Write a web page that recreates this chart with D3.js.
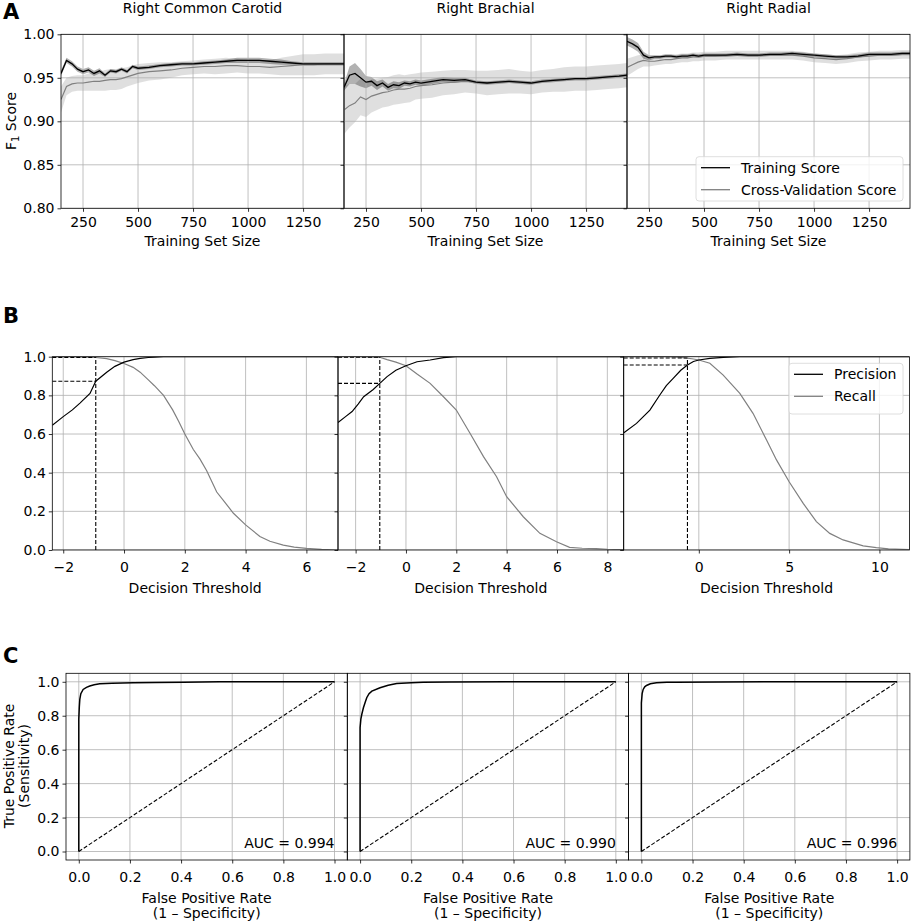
<!DOCTYPE html>
<html lang="en">
<head>
<meta charset="utf-8">
<title>Learning curves, precision-recall and ROC</title>
<script src="https://d3js.org/d3.v7.min.js"></script>
<style>
  body { margin: 0; background: #fff; }
  svg { font-family: "DejaVu Sans", sans-serif; }
  .tick line { stroke: #000; stroke-width: 0.8; }
  .grid line { stroke: #b0b0b0; stroke-width: 0.8; }
  .lbl { font-size: 14px; fill: #000; }
  .letter { font-size: 21px; font-weight: bold; }
</style>
</head>
<body>
<script>
// ---- A: learning curves ----
var arteries = ["Right Common Carotid", "Right Brachial", "Right Radial"];
var sizes = [150,175,200,225,250,275,300,325,350,375,400,425,450,475,500,550,600,650,700,750,800,850,900,950,1000,1050,1100,1150,1200,1250,1300,1350,1400,1436];
var sizeTicks = [250, 500, 750, 1000, 1250];
var f1Ticks = [0.80, 0.85, 0.90, 0.95, 1.00];

var carotidTrain    = [0.955,0.970,0.966,0.960,0.957,0.959,0.955,0.958,0.953,0.958,0.957,0.960,0.957,0.963,0.961,0.962,0.964,0.965,0.966,0.966,0.967,0.968,0.969,0.970,0.970,0.970,0.969,0.968,0.967,0.966,0.966,0.966,0.966,0.966];
var carotidTrainStd = [0.003,0.003,0.003,0.003,0.003,0.003,0.003,0.003,0.002,0.002,0.002,0.002,0.002,0.002,0.002,0.002,0.002,0.002,0.002,0.002,0.002,0.002,0.002,0.003,0.003,0.003,0.003,0.003,0.002,0.002,0.002,0.002,0.002,0.002];
var carotidCv       = [0.925,0.940,0.943,0.944,0.944,0.945,0.946,0.946,0.947,0.948,0.948,0.949,0.951,0.953,0.955,0.957,0.958,0.959,0.961,0.962,0.963,0.963,0.964,0.964,0.963,0.963,0.962,0.963,0.964,0.965,0.965,0.966,0.966,0.966];
var carotidCvStd    = [0.015,0.010,0.009,0.009,0.009,0.010,0.011,0.011,0.012,0.012,0.012,0.012,0.011,0.011,0.011,0.010,0.010,0.009,0.008,0.008,0.008,0.009,0.009,0.008,0.008,0.008,0.008,0.010,0.011,0.012,0.012,0.012,0.012,0.012];

var brachialTrain    = [0.939,0.953,0.955,0.950,0.945,0.946,0.941,0.944,0.939,0.942,0.941,0.944,0.943,0.945,0.944,0.946,0.948,0.947,0.948,0.945,0.944,0.945,0.946,0.945,0.944,0.946,0.947,0.948,0.949,0.949,0.950,0.951,0.952,0.953];
var brachialTrainStd = [0.004,0.010,0.012,0.010,0.007,0.005,0.005,0.004,0.004,0.004,0.004,0.003,0.003,0.003,0.003,0.003,0.003,0.003,0.002,0.002,0.002,0.002,0.002,0.002,0.002,0.002,0.002,0.002,0.002,0.002,0.002,0.002,0.002,0.002];
var brachialCv       = [0.913,0.918,0.921,0.928,0.925,0.929,0.931,0.933,0.934,0.936,0.937,0.937,0.938,0.940,0.941,0.942,0.944,0.945,0.946,0.945,0.944,0.945,0.946,0.945,0.944,0.946,0.947,0.948,0.949,0.949,0.950,0.951,0.952,0.953];
var brachialCvStd    = [0.028,0.025,0.022,0.021,0.020,0.019,0.018,0.017,0.017,0.017,0.017,0.016,0.016,0.015,0.015,0.015,0.014,0.014,0.013,0.013,0.014,0.014,0.014,0.013,0.013,0.013,0.013,0.014,0.014,0.014,0.014,0.014,0.014,0.014];

var radialTrain    = [0.992,0.989,0.985,0.976,0.973,0.974,0.974,0.975,0.975,0.974,0.975,0.975,0.976,0.975,0.976,0.976,0.976,0.977,0.976,0.976,0.977,0.977,0.978,0.977,0.976,0.975,0.974,0.974,0.975,0.977,0.977,0.977,0.978,0.978];
var radialTrainStd = [0.005,0.005,0.005,0.004,0.003,0.002,0.002,0.002,0.002,0.002,0.002,0.002,0.002,0.002,0.002,0.002,0.002,0.002,0.002,0.002,0.002,0.002,0.002,0.002,0.002,0.002,0.002,0.002,0.002,0.002,0.002,0.002,0.002,0.002];
var radialCv       = [0.962,0.965,0.968,0.970,0.969,0.969,0.970,0.971,0.971,0.972,0.973,0.973,0.974,0.974,0.975,0.975,0.976,0.976,0.976,0.976,0.976,0.976,0.976,0.975,0.973,0.972,0.971,0.972,0.974,0.975,0.976,0.976,0.977,0.977];
var radialCvStd    = [0.010,0.009,0.008,0.007,0.006,0.005,0.005,0.005,0.005,0.005,0.005,0.005,0.005,0.005,0.005,0.005,0.005,0.005,0.005,0.005,0.005,0.005,0.005,0.005,0.005,0.005,0.005,0.005,0.005,0.005,0.005,0.005,0.005,0.005];

// ---- B: precision / recall vs decision threshold ----
var carotidThresh = [-2.36,-2.0,-1.7,-1.45,-1.12,-0.93,-0.57,-0.3,0,0.3,0.53,0.8,1.0,1.3,1.6,1.8,2.0,2.28,2.5,2.72,3.05,3.3,3.6,4.0,4.47,4.8,5.24,5.6,6.0,6.5,7.04];
var carotidPrec   = [0.645,0.69,0.725,0.76,0.81,0.873,0.92,0.95,0.972,0.985,0.991,0.996,0.998,1,1,1,1,1,1,1,1,1,1,1,1,1,1,1,1,1,1];
var carotidRec    = [1,1,1,0.999,0.998,0.996,0.99,0.98,0.965,0.945,0.92,0.88,0.85,0.80,0.725,0.665,0.60,0.52,0.47,0.41,0.30,0.25,0.19,0.13,0.07,0.045,0.025,0.015,0.008,0.003,0.0];

var brachialThresh = [-2.7,-2.4,-2.14,-1.9,-1.68,-1.3,-1.04,-0.75,-0.4,0,0.44,0.96,1.49,2.0,2.55,3.08,3.6,4.0,4.66,5.32,5.98,6.5,7.0,7.56,8.0,8.65];
var brachialPrec   = [0.66,0.69,0.716,0.755,0.793,0.83,0.862,0.897,0.93,0.953,0.974,0.983,0.995,1,1,1,1,1,1,1,1,1,1,1,1,1];
var brachialRec    = [1,1,1,1,0.999,0.998,0.997,0.985,0.972,0.953,0.91,0.862,0.793,0.724,0.603,0.483,0.379,0.276,0.172,0.086,0.043,0.014,0.009,0.007,0.004,0.002];

var radialThresh = [-4.15,-3.45,-2.71,-2.16,-1.8,-1.42,-1.0,-0.63,-0.3,0,0.61,1.35,2.27,3.0,3.75,4.3,5.0,5.78,6.51,7.25,7.99,9.1,9.83,10.5,11.66];
var radialPrec   = [0.607,0.655,0.724,0.802,0.85,0.888,0.93,0.957,0.975,0.983,0.991,0.997,1,1,1,1,1,1,1,1,1,1,1,1,1];
var radialRec    = [1,1,1,1,1,0.999,0.997,0.993,0.988,0.983,0.966,0.905,0.81,0.707,0.569,0.466,0.353,0.241,0.147,0.086,0.052,0.021,0.012,0.006,0.002];

var threshDomains = [[-2.36, 7.04], [-2.7, 8.65], [-4.16, 11.66]];
var threshTicks = [[-2, 0, 2, 4, 6], [-2, 0, 2, 4, 6, 8], [0, 5, 10]];
var cutThresh = [-0.93, -1.04, -0.63];
var cutPrec = [0.873, 0.862, 0.957];
var cutRec = [0.996, 0.997, 0.993];

// ---- C: ROC ----
var carotidFpr = [0,0,0.002,0.004,0.008,0.017,0.03,0.043,0.06,0.082,0.13,0.213,0.3,0.41,0.55,1.0];
var carotidTpr = [0,0.78,0.85,0.896,0.93,0.955,0.967,0.975,0.982,0.988,0.991,0.994,0.996,0.998,1.0,1.0];
var brachialFpr = [0,0,0.003,0.007,0.013,0.02,0.026,0.035,0.046,0.078,0.11,0.143,0.2,0.247,0.35,0.57,1.0];
var brachialTpr = [0,0.73,0.78,0.81,0.847,0.88,0.906,0.93,0.945,0.965,0.98,0.99,0.995,0.998,0.999,1.0,1.0];
var radialFpr = [0,0,0.003,0.007,0.013,0.02,0.035,0.059,0.1,0.137,0.3,0.66,1.0];
var radialTpr = [0,0.876,0.93,0.955,0.97,0.978,0.988,0.994,0.997,0.998,0.999,1.0,1.0];
var aucLabels = ["AUC = 0.994", "AUC = 0.990", "AUC = 0.996"];
var rateTicks = [0, 0.2, 0.4, 0.6, 0.8, 1.0];

var learning = [
    {train: carotidTrain, trainSd: carotidTrainStd, cv: carotidCv, cvSd: carotidCvStd},
    {train: brachialTrain, trainSd: brachialTrainStd, cv: brachialCv, cvSd: brachialCvStd},
    {train: radialTrain, trainSd: radialTrainStd, cv: radialCv, cvSd: radialCvStd}
];
var prCurves = [
    {t: carotidThresh, p: carotidPrec, r: carotidRec},
    {t: brachialThresh, p: brachialPrec, r: brachialRec},
    {t: radialThresh, p: radialPrec, r: radialRec}
];
var rocCurves = [
    {fpr: carotidFpr, tpr: carotidTpr},
    {fpr: brachialFpr, tpr: brachialTpr},
    {fpr: radialFpr, tpr: radialTpr}
];

var svg = d3.select("body").append("svg")
    .attr("width", 913)
    .attr("height", 922);

var grey = "#808080";

function frame(g, x0, y0, w, h) {
    g.append("rect")
        .attr("x", x0).attr("y", y0)
        .attr("width", w).attr("height", h)
        .attr("fill", "none")
        .attr("stroke", "#000")
        .attr("stroke-width", 0.8);
}

function clip(id, x0, y0, w, h) {
    svg.append("clipPath").attr("id", id)
        .append("rect").attr("x", x0).attr("y", y0).attr("width", w).attr("height", h);
}

function grid(g, x, y, xt, yt) {
    var gg = g.append("g").attr("class", "grid");
    gg.selectAll(".gx").data(xt).enter().append("line")
        .attr("x1", function(d) { return x(d); })
        .attr("x2", function(d) { return x(d); })
        .attr("y1", y.range()[0]).attr("y2", y.range()[1]);
    gg.selectAll(".gy").data(yt).enter().append("line")
        .attr("y1", function(d) { return y(d); })
        .attr("y2", function(d) { return y(d); })
        .attr("x1", x.range()[0]).attr("x2", x.range()[1]);
}

function axes(g, x, y, xt, yt, xfmt, yfmt, showY, xpad) {
    var ax = g.append("g")
        .attr("transform", "translate(0," + y.range()[0] + ")")
        .call(d3.axisBottom(x).tickValues(xt).tickFormat(xfmt).tickSize(3.5).tickPadding(xpad).tickSizeOuter(0));
    ax.select(".domain").remove();
    var ay = g.append("g")
        .attr("transform", "translate(" + x.range()[0] + ",0)")
        .call(d3.axisLeft(y).tickValues(yt).tickFormat(showY ? yfmt : function() { return ""; }).tickSize(3.5).tickPadding(3).tickSizeOuter(0));
    ay.select(".domain").remove();
    [ax, ay].forEach(function(a) {
        a.attr("font-size", 14).attr("font-family", "'DejaVu Sans', sans-serif");
        a.selectAll(".tick text").attr("fill", "#000");
    });
}

function legend(g, x0, y0, w, h, items) {
    g.append("rect")
        .attr("x", x0).attr("y", y0).attr("width", w).attr("height", h)
        .attr("rx", 3)
        .attr("fill", "#fff").attr("fill-opacity", 0.8)
        .attr("stroke", "#d6d6d6").attr("stroke-width", 0.8);
    items.forEach(function(it, i) {
        var cy = y0 + 11 + i * 22;
        g.append("line")
            .attr("x1", x0 + 5).attr("x2", x0 + 34)
            .attr("y1", cy).attr("y2", cy)
            .attr("stroke", it.color).attr("stroke-width", 1.3);
        g.append("text").attr("class", "lbl")
            .attr("x", x0 + 45).attr("y", cy + 5)
            .text(it.label);
    });
}

// ================= Row A =================
var aLeft = 61, aW = 283, aTop = 34.3, aBot = 208.3;
var yA = d3.scaleLinear().domain([0.80, 1.00]).range([aBot, aTop]);

learning.forEach(function(p, i) {
    var x0 = aLeft + i * aW;
    var x = d3.scaleLinear().domain([150, 1436]).range([x0, x0 + aW]);
    var g = svg.append("g");
    clip("clipA" + i, x0, aTop, aW, aBot - aTop);
    var rows = sizes.map(function(s, k) {
        return {s: s, tr: p.train[k], trSd: p.trainSd[k], cv: p.cv[k], cvSd: p.cvSd[k]};
    });
    var dg = g.append("g").attr("clip-path", "url(#clipA" + i + ")");
    dg.append("path").datum(rows)
        .attr("fill", grey).attr("fill-opacity", 0.25)
        .attr("d", d3.area().x(function(d) { return x(d.s); })
            .y0(function(d) { return yA(d.cv - d.cvSd); })
            .y1(function(d) { return yA(d.cv + d.cvSd); }));
    dg.append("path").datum(rows)
        .attr("fill", "#000").attr("fill-opacity", 0.3)
        .attr("d", d3.area().x(function(d) { return x(d.s); })
            .y0(function(d) { return yA(d.tr - d.trSd); })
            .y1(function(d) { return yA(d.tr + d.trSd); }));
    grid(dg, x, yA, sizeTicks, f1Ticks);
    dg.append("path").datum(rows)
        .attr("fill", "none").attr("stroke", grey).attr("stroke-width", 1.2)
        .attr("d", d3.line().x(function(d) { return x(d.s); }).y(function(d) { return yA(d.cv); }));
    dg.append("path").datum(rows)
        .attr("fill", "none").attr("stroke", "#000").attr("stroke-width", 1.3)
        .attr("d", d3.line().x(function(d) { return x(d.s); }).y(function(d) { return yA(d.tr); }));
    axes(g, x, yA, sizeTicks, f1Ticks, d3.format("d"), d3.format(".2f"), i === 0, 5);
    frame(g, x0, aTop, aW, aBot - aTop);
    g.append("text").attr("class", "lbl")
        .attr("x", x0 + aW / 2).attr("y", 13)
        .attr("text-anchor", "middle").text(arteries[i]);
    g.append("text").attr("class", "lbl")
        .attr("x", x0 + aW / 2).attr("y", 245.7)
        .attr("text-anchor", "middle").text("Training Set Size");
    if (i === 2) {
        legend(g, 696, 156.7, 207, 44.3, [
            {label: "Training Score", color: "#000"},
            {label: "Cross-Validation Score", color: grey}
        ]);
    }
});

var f1Label = svg.append("text").attr("class", "lbl")
    .attr("transform", "translate(16,121) rotate(-90)")
    .attr("text-anchor", "middle");
f1Label.append("tspan").text("F");
f1Label.append("tspan").attr("font-size", "10px").attr("dy", 3).text("1");
f1Label.append("tspan").attr("dy", -3).text(" Score");

svg.append("text").attr("class", "letter").attr("x", 3).attr("y", 19).text("A");

// ================= Row B =================
var bLeft = 52.3, bW = 285.7, bTop = 356.7, bBot = 550;
var yB = d3.scaleLinear().domain([0, 1]).range([bBot, bTop]);
var probTicks = [0, 0.2, 0.4, 0.6, 0.8, 1.0];

prCurves.forEach(function(c, i) {
    var x0 = bLeft + i * bW;
    var dom = threshDomains[i];
    var x = d3.scaleLinear().domain(dom).range([x0, x0 + bW]);
    var g = svg.append("g");
    clip("clipB" + i, x0, bTop, bW, bBot - bTop);
    var dg = g.append("g").attr("clip-path", "url(#clipB" + i + ")");
    grid(dg, x, yB, threshTicks[i], probTicks);
    var rows = c.t.map(function(t, k) { return {t: t, p: c.p[k], r: c.r[k]}; });
    dg.append("path").datum(rows)
        .attr("fill", "none").attr("stroke", grey).attr("stroke-width", 1.2)
        .attr("d", d3.line().x(function(d) { return x(d.t); }).y(function(d) { return yB(d.r); }));
    dg.append("path").datum(rows)
        .attr("fill", "none").attr("stroke", "#000").attr("stroke-width", 1.2)
        .attr("d", d3.line().x(function(d) { return x(d.t); }).y(function(d) { return yB(d.p); }));
    // operating-point guides
    var guides = [
        [[cutThresh[i], 0], [cutThresh[i], cutRec[i]]],
        [[dom[0], cutPrec[i]], [cutThresh[i], cutPrec[i]]],
        [[dom[0], cutRec[i]], [cutThresh[i], cutRec[i]]]
    ];
    guides.forEach(function(seg) {
        dg.append("line")
            .attr("x1", x(seg[0][0])).attr("y1", yB(seg[0][1]))
            .attr("x2", x(seg[1][0])).attr("y2", yB(seg[1][1]))
            .attr("stroke", "#000").attr("stroke-width", 1.1)
            .attr("stroke-dasharray", "4,2");
    });
    axes(g, x, yB, threshTicks[i], probTicks, d3.format("d"), d3.format(".1f"), i === 0, 8.2);
    frame(g, x0, bTop, bW, bBot - bTop);
    g.append("text").attr("class", "lbl")
        .attr("x", x0 + bW / 2).attr("y", 593.3)
        .attr("text-anchor", "middle").text("Decision Threshold");
    if (i === 2) {
        legend(g, 789, 363.3, 114, 50.7, [
            {label: "Precision", color: "#000"},
            {label: "Recall", color: grey}
        ]);
    }
});

svg.append("text").attr("class", "letter").attr("x", 3).attr("y", 322.7).text("B");

// ================= Row C =================
var cLeft = 66, cW = 281.3, cTop = 673.3, cBot = 860;
var yC = d3.scaleLinear().domain([-0.05, 1.05]).range([cBot, cTop]);

rocCurves.forEach(function(c, i) {
    var x0 = cLeft + i * cW;
    var x = d3.scaleLinear().domain([-0.05, 1.05]).range([x0, x0 + cW]);
    var g = svg.append("g");
    clip("clipC" + i, x0, cTop, cW, cBot - cTop);
    var dg = g.append("g").attr("clip-path", "url(#clipC" + i + ")");
    grid(dg, x, yC, rateTicks, rateTicks);
    dg.append("line")
        .attr("x1", x(0)).attr("y1", yC(0)).attr("x2", x(1)).attr("y2", yC(1))
        .attr("stroke", "#000").attr("stroke-width", 1.1)
        .attr("stroke-dasharray", "4,2");
    var rows = c.fpr.map(function(f, k) { return {f: f, t: c.tpr[k]}; });
    dg.append("path").datum(rows)
        .attr("fill", "none").attr("stroke", "#000").attr("stroke-width", 1.5)
        .attr("d", d3.line().x(function(d) { return x(d.f); }).y(function(d) { return yC(d.t); }));
    dg.append("text").attr("class", "lbl")
        .attr("x", x(1.0)).attr("y", yC(0.02))
        .attr("text-anchor", "end").text(aucLabels[i]);
    axes(g, x, yC, rateTicks, rateTicks, d3.format(".1f"), d3.format(".1f"), i === 0, 8.2);
    frame(g, x0, cTop, cW, cBot - cTop);
    g.append("text").attr("class", "lbl")
        .attr("x", x0 + cW / 2).attr("y", 903)
        .attr("text-anchor", "middle").text("False Positive Rate");
    g.append("text").attr("class", "lbl")
        .attr("x", x0 + cW / 2).attr("y", 917.5)
        .attr("text-anchor", "middle").text("(1 \u2013 Specificity)");
});

svg.append("text").attr("class", "lbl")
    .attr("transform", "translate(14,766) rotate(-90)")
    .attr("text-anchor", "middle").text("True Positive Rate");
svg.append("text").attr("class", "lbl")
    .attr("transform", "translate(29,766) rotate(-90)")
    .attr("text-anchor", "middle").text("(Sensitivity)");

svg.append("text").attr("class", "letter").attr("x", 3).attr("y", 663.3).text("C");
</script>
</body>
</html>
